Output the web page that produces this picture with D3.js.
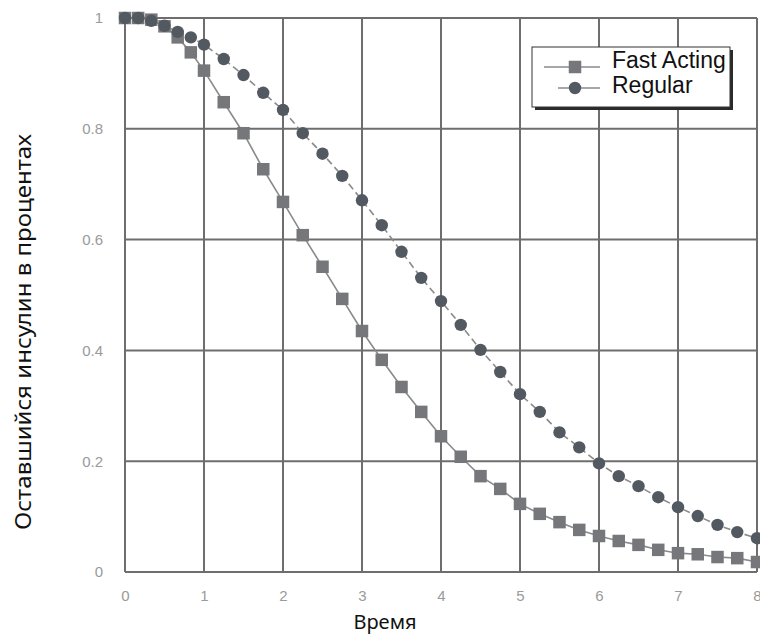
<!DOCTYPE html>
<html>
<head>
<meta charset="utf-8">
<script src="https://cdn.jsdelivr.net/npm/d3@7"></script>
<style>
  body { margin: 0; background: #fff; }
  svg { display: block; }
</style>
</head>
<body>
<div id="chart"></div>
<script>
// hours after injection (denser samples in the first hour)
const hours = [0, 0.167, 0.333, 0.5, 0.667, 0.833, 1,
    1.25, 1.5, 1.75, 2, 2.25, 2.5, 2.75, 3, 3.25, 3.5, 3.75, 4,
    4.25, 4.5, 4.75, 5, 5.25, 5.5, 5.75, 6, 6.25, 6.5, 6.75, 7,
    7.25, 7.5, 7.75, 8];

const fastActing = [1.0, 1.0, 0.997, 0.985, 0.965, 0.938, 0.905,
    0.848, 0.792, 0.727, 0.668, 0.608, 0.551, 0.493, 0.435, 0.383, 0.334, 0.289, 0.245,
    0.208, 0.173, 0.150, 0.123, 0.105, 0.090, 0.076, 0.065, 0.056, 0.049, 0.040, 0.034,
    0.032, 0.027, 0.025, 0.018];

const regular = [1.0, 1.0, 0.995, 0.986, 0.975, 0.965, 0.952,
    0.926, 0.897, 0.865, 0.834, 0.792, 0.755, 0.715, 0.671, 0.626, 0.578, 0.531, 0.489,
    0.446, 0.401, 0.361, 0.321, 0.289, 0.252, 0.225, 0.196, 0.173, 0.155, 0.135, 0.117,
    0.101, 0.085, 0.072, 0.061];

const xTicks = [0, 1, 2, 3, 4, 5, 6, 7, 8];
const xTickLabels = ["0", "1", "2", "3", "4", "5", "6", "7", "8"];
const yTicks = [0, 0.2, 0.4, 0.6, 0.8, 1];
const yTickLabels = ["0", "0.2", "0.4", "0.6", "0.8", "1"];

const seriesNames = ["Fast Acting", "Regular"];

const W = 760, H = 637;
const margin = { top: 18, right: 3, bottom: 65, left: 125 },
    width = W - margin.left - margin.right,
    height = H - margin.top - margin.bottom;

const svg = d3.select("#chart")
    .append("svg")
    .attr("width", W)
    .attr("height", H);

const g = svg.append("g")
    .attr("transform", `translate(${margin.left},${margin.top})`);

const x = d3.scaleLinear().domain([0, 8]).range([0, width]);
const y = d3.scaleLinear().domain([0, 1]).range([height, 0]);

const gridColor = "#6e6e6e";

// grid
g.append("g").selectAll("line")
    .data(xTicks)
    .join("line")
    .attr("x1", d => x(d)).attr("x2", d => x(d))
    .attr("y1", 0).attr("y2", height)
    .attr("stroke", gridColor)
    .attr("stroke-width", 2);

g.append("g").selectAll("line")
    .data(yTicks)
    .join("line")
    .attr("x1", 0).attr("x2", width)
    .attr("y1", d => y(d)).attr("y2", d => y(d))
    .attr("stroke", gridColor)
    .attr("stroke-width", 2);

// axes (labels only)
const xAxis = g.append("g")
    .attr("transform", `translate(0,${height})`)
    .call(d3.axisBottom(x).tickValues(xTicks)
        .tickFormat((d, i) => xTickLabels[i])
        .tickSize(0).tickPadding(18));

const yAxis = g.append("g")
    .call(d3.axisLeft(y).tickValues(yTicks)
        .tickFormat((d, i) => yTickLabels[i])
        .tickSize(0).tickPadding(22));

[xAxis, yAxis].forEach(a => {
    a.select(".domain").remove();
    a.selectAll("text")
        .attr("fill", "#9a9a9a")
        .style("font-family", "'Liberation Sans', Arial, sans-serif")
        .style("font-size", "15px");
});

// lines
const line = d3.line()
    .x((d, i) => x(hours[i]))
    .y(d => y(d));

g.append("path")
    .datum(fastActing)
    .attr("d", line)
    .attr("fill", "none")
    .attr("stroke", "#8a8a8c")
    .attr("stroke-width", 1.6);

g.append("path")
    .datum(regular)
    .attr("d", line)
    .attr("fill", "none")
    .attr("stroke", "#8a8a8c")
    .attr("stroke-width", 1.6)
    .attr("stroke-dasharray", "7,4");

// markers
const sq = 12.5;
g.append("g").selectAll("rect")
    .data(fastActing)
    .join("rect")
    .attr("x", (d, i) => x(hours[i]) - sq / 2)
    .attr("y", d => y(d) - sq / 2)
    .attr("width", sq)
    .attr("height", sq)
    .attr("fill", "#76777a");

g.append("g").selectAll("circle")
    .data(regular)
    .join("circle")
    .attr("cx", (d, i) => x(hours[i]))
    .attr("cy", d => y(d))
    .attr("r", 6.2)
    .attr("fill", "#535961");

// legend
const lg = svg.append("g").attr("transform", "translate(532,47)");
lg.append("rect")
    .attr("x", 3).attr("y", 3)
    .attr("width", 198).attr("height", 60)
    .attr("fill", "#2a2a2a");
lg.append("rect")
    .attr("x", 0).attr("y", 0)
    .attr("width", 198).attr("height", 60)
    .attr("fill", "#fff")
    .attr("stroke", "#333")
    .attr("stroke-width", 1);

lg.append("line")
    .attr("x1", 12).attr("x2", 68).attr("y1", 20).attr("y2", 20)
    .attr("stroke", "#8a8a8c").attr("stroke-width", 1.6);
lg.append("rect")
    .attr("x", 43 - sq / 2).attr("y", 20 - sq / 2)
    .attr("width", sq).attr("height", sq)
    .attr("fill", "#76777a");

lg.append("line")
    .attr("x1", 26).attr("x2", 68).attr("y1", 41).attr("y2", 41)
    .attr("stroke", "#8a8a8c").attr("stroke-width", 1.6);
lg.append("circle")
    .attr("cx", 43).attr("cy", 41).attr("r", 6.2)
    .attr("fill", "#535961");

lg.selectAll("text.name")
    .data(seriesNames)
    .join("text")
    .attr("class", "name")
    .attr("x", 80)
    .attr("y", (d, i) => 21 + i * 25)
    .attr("fill", "#111")
    .style("font-family", "'Liberation Sans', Arial, sans-serif")
    .style("font-size", "23px")
    .text(d => d);

// axis titles
svg.append("text")
    .attr("x", 385)
    .attr("y", 629)
    .attr("text-anchor", "middle")
    .attr("fill", "#111")
    .style("font-family", "'Noto Sans', sans-serif")
    .style("font-size", "20px")
    .text("Время");

svg.append("text")
    .attr("transform", "translate(31,332) rotate(-90)")
    .attr("text-anchor", "middle")
    .attr("fill", "#111")
    .attr("textLength", 396)
    .attr("lengthAdjust", "spacingAndGlyphs")
    .style("font-family", "'Noto Sans', sans-serif")
    .style("font-size", "21px")
    .text("Оставшийся инсулин в процентах");
</script>
</body>
</html>
